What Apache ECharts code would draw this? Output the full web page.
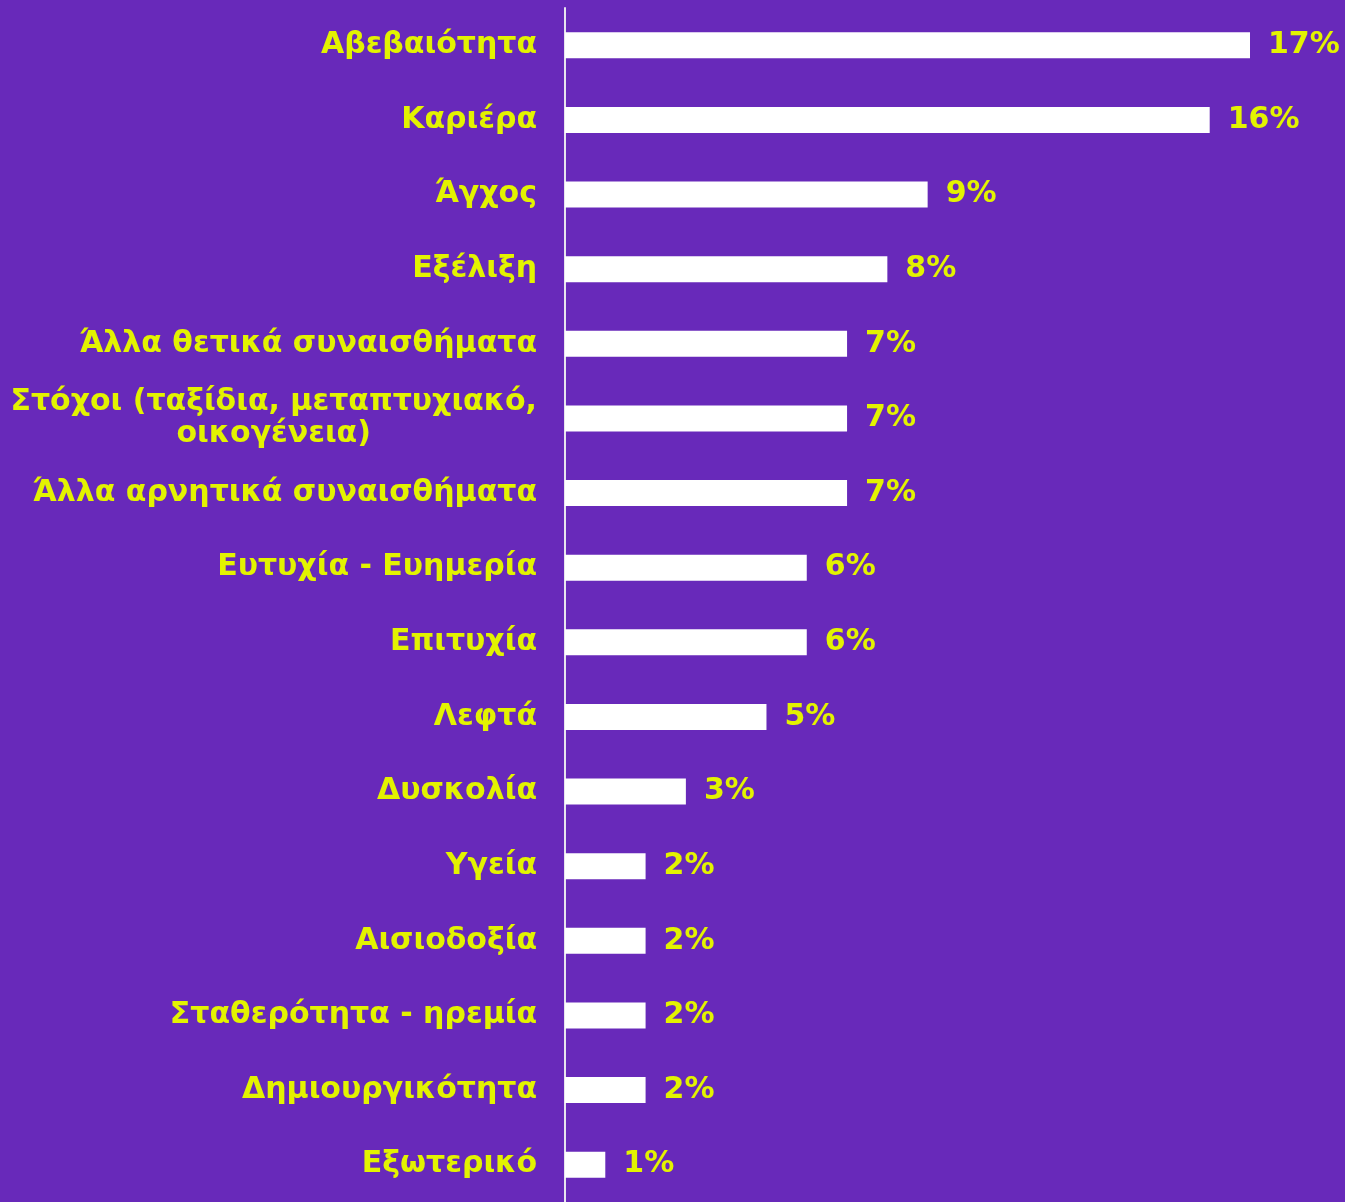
<!DOCTYPE html>
<html>
<head>
<meta charset="utf-8">
<script src="https://cdn.jsdelivr.net/npm/echarts@6/dist/echarts.min.js"></script>
<style>
  html, body { margin: 0; padding: 0; background: #6829ba; }
  #chart { width: 1345px; height: 1202px; }
</style>
</head>
<body>
<div id="chart"></div>
<script>
const categories = [
  'Αβεβαιότητα',
  'Καριέρα',
  'Άγχος',
  'Εξέλιξη',
  'Άλλα θετικά συναισθήματα',
  'Στόχοι (ταξίδια, μεταπτυχιακό,\nοικογένεια)',
  'Άλλα αρνητικά συναισθήματα',
  'Ευτυχία - Ευημερία',
  'Επιτυχία',
  'Λεφτά',
  'Δυσκολία',
  'Υγεία',
  'Αισιοδοξία',
  'Σταθερότητα - ηρεμία',
  'Δημιουργικότητα',
  'Εξωτερικό'
]
const values = [17, 16, 9, 8, 7, 7, 7, 6, 6, 5, 3, 2, 2, 2, 2, 1]

const yellow = '#e3f300'
const font = '"DejaVu Sans", sans-serif'

const chart = echarts.init(document.getElementById('chart'))
chart.setOption({
  backgroundColor: '#6829ba',
  animation: false,
  grid: { left: 565, width: 685, top: 8, height: 1203, containLabel: false },
  xAxis: {
    type: 'value',
    min: 0,
    max: 17,
    show: false
  },
  yAxis: {
    type: 'category',
    inverse: true,
    data: categories,
    axisLine: { show: true, lineStyle: { color: '#e8e4ee', width: 2 } },
    axisTick: { show: false },
    axisLabel: {
      margin: 28,
      color: yellow,
      fontFamily: font,
      fontWeight: 'bold',
      fontSize: 30,
      lineHeight: 32,
      formatter: (v) => {
        if (v.indexOf('\n') < 0) return v
        return v.split('\n').map(s => '{c|' + s + '}').join('\n')
      },
      rich: {
        c: {
          align: 'center',
          color: yellow,
          fontFamily: font,
          fontWeight: 'bold',
          fontSize: 30,
          lineHeight: 32
        }
      }
    }
  },
  series: [
    {
      type: 'bar',
      data: values,
      barWidth: 26,
      itemStyle: { color: '#ffffff' },
      label: {
        show: true,
        position: 'right',
        distance: 18,
        color: yellow,
        fontFamily: font,
        fontWeight: 'bold',
        fontSize: 30,
        formatter: (p) => p.value + '%'
      }
    }
  ]
})
</script>
</body>
</html>
